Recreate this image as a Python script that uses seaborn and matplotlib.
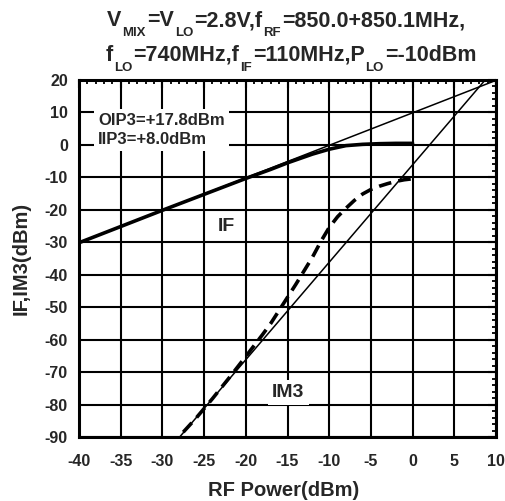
import numpy as np
import pandas as pd
import seaborn as sns
import matplotlib.pyplot as plt
from matplotlib.ticker import MultipleLocator
from matplotlib.transforms import IdentityTransform

# measured IF output (fundamental) vs RF input power
rf_if = [-40, -35, -30, -25, -20, -17, -15, -12, -10, -8, -6, -4, -2, 0]
if_out = [-30.2, -25.2, -20.2, -15.3, -10.4, -7.6, -5.6, -2.9, -1.4, -0.3, 0.1, 0.3, 0.4, 0.4]

# measured IM3 output
rf_im3 = [-27.5, -26, -24, -22, -20, -18, -17, -16, -15, -14, -13, -12,
          -11, -10, -9, -8, -7, -6, -5, -4, -3, -2, -1, 0]
im3_out = [-88.5, -84.3, -78.2, -71.8, -65.2, -58.5, -55.0, -51.0, -47.0, -43.0, -38.8, -34.6,
           -29.8, -25.5, -22.2, -19.6, -17.2, -15.2, -13.8, -12.8, -12.0, -11.3, -10.8, -10.5]

# extrapolated 1:1 and 3:1 lines (meet at IIP3 / OIP3)
fund_fit_x = [-40, 10]
fund_fit_y = [-30.2, 19.8]
im3_fit_x = [-27.93, 8.73]
im3_fit_y = [-90, 20]

x_ticks = list(range(-40, 11, 5))
y_ticks = list(range(-90, 21, 10))

title_line1 = [("V", False), ("MIX", True), ("=V", False), ("LO", True),
               ("=2.8V,f", False), ("RF", True), ("=850.0+850.1MHz,", False)]
title_line2 = [("f", False), ("LO", True), ("=740MHz,f", False), ("IF", True),
               ("=110MHz,P", False), ("LO", True), ("=-10dBm", False)]

sns.set_style("white")
plt.rcParams["font.family"] = ["Liberation Sans", "DejaVu Sans"]
plt.rcParams["font.weight"] = "bold"
plt.rcParams["axes.unicode_minus"] = False

W, H = 505, 501
fig = plt.figure(figsize=(W / 100, H / 100), dpi=100)
ax = fig.add_axes([79 / W, (H - 437) / H, (496 - 79) / W, (437 - 79.7) / H])

df_if = pd.DataFrame({"rf": rf_if, "out": if_out})
df_im3 = pd.DataFrame({"rf": rf_im3, "out": im3_out})

sns.lineplot(x=fund_fit_x, y=fund_fit_y, ax=ax, color="black", lw=1.1)
sns.lineplot(x=im3_fit_x, y=im3_fit_y, ax=ax, color="black", lw=1.1)
sns.lineplot(data=df_if, x="rf", y="out", ax=ax, color="black", lw=2.6, sort=False)
sns.lineplot(data=df_im3, x="rf", y="out", ax=ax, color="black", lw=2.6, sort=False,
             linestyle=(0, (3.5, 2)))

ax.set_xlim(-40, 10)
ax.set_ylim(-90, 20)
ax.set_xticks(x_ticks)
ax.set_yticks(y_ticks)
ax.xaxis.set_minor_locator(MultipleLocator(1))
ax.yaxis.set_minor_locator(MultipleLocator(2))
ax.grid(True, which="major", color="black", lw=1.5)
ax.tick_params(which="both", direction="in", top=True, right=True, color="black",
               labelsize=11.5)
ax.tick_params(which="major", length=6, width=1.5)
ax.tick_params(which="minor", length=3, width=1.3)
ax.tick_params(axis="x", pad=12)
ax.tick_params(axis="y", pad=8)
for s in ax.spines.values():
    s.set_color("black")
    s.set_linewidth(2.2)

ax.set_xlabel("RF Power(dBm)", fontsize=14.5, fontweight="bold")
ax.set_ylabel("IF,IM3(dBm)", fontsize=14.5, fontweight="bold")
ax.xaxis.set_label_coords(0.49, -0.123)
ax.yaxis.set_label_coords(-0.115, 0.5)

box = dict(facecolor="white", edgecolor="none", pad=3)
ax.text(-37.7, 4.6, "OIP3=+17.8dBm\nIIP3=+8.0dBm", fontsize=12, fontweight="bold",
        ha="left", va="center", linespacing=1.3, bbox=box)
ax.text(-22.3, -25.3, "IF", fontsize=14, fontweight="bold", ha="center", va="center", bbox=box)
ax.text(-14.9, -76.4, "IM3", fontsize=14, fontweight="bold", ha="center", va="center", bbox=box)


def rich_line(parts, baseline, center_x, size=15.5, sub_size=9.5, sub_drop=10, gap=1.0):
    renderer = fig.canvas.get_renderer()
    texts, x = [], 0.0
    for s, sub in parts:
        y = H - baseline - (sub_drop if sub else 0)
        t = fig.text(x, y, s, transform=IdentityTransform(), fontsize=sub_size if sub else size,
                     fontweight="bold", va="baseline", ha="left")
        x += t.get_window_extent(renderer=renderer).width + gap
        texts.append(t)
    shift = center_x - (x - gap) / 2
    for t in texts:
        px, py = t.get_position()
        t.set_position((px + shift, py))


rich_line(title_line1, 26, 286)
rich_line(title_line2, 61, 291)

fig.savefig("out.png", dpi=100)
